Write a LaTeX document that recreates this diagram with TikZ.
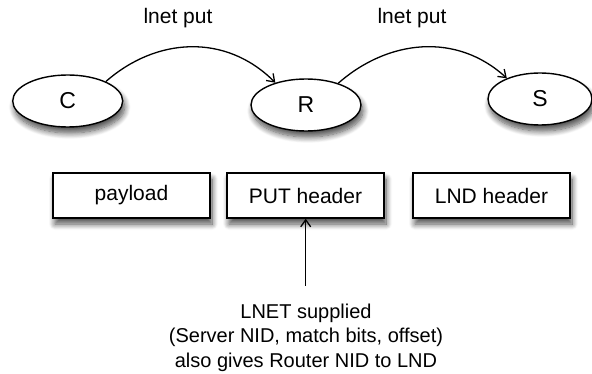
\documentclass[tikz,border=0pt]{standalone}
\usepackage{fontspec}
\setmainfont{Liberation Sans}
\usetikzlibrary{shapes.geometric,arrows.meta,shadows.blur}
\begin{document}
\begin{tikzpicture}[x=1pt,y=1pt,
  font=\fontsize{21}{24.5}\selectfont,
  shad/.style={blur shadow={shadow xshift=2pt,shadow yshift=-6pt,shadow blur radius=6pt,shadow blur steps=10,shadow opacity=70}},
  hostnode/.style={ellipse,draw,line width=1.4pt,fill=white,minimum width=110pt,minimum height=52pt,inner sep=0pt,shad,font=\fontsize{23}{26}\selectfont},
  hdrbox/.style={rectangle,draw,line width=1.4pt,fill=white,minimum width=157pt,minimum height=45pt,inner sep=0pt,shad},
  conn/.style={line width=1.3pt,-{Straight Barb[length=7pt,width=10pt,line width=1.3pt]}}
]
\useasboundingbox (0,0) rectangle (592,-374);
\node[hostnode] (C) at (67.7,-101) {C};
\node[hostnode] (R) at (306,-105) {R};
\node[hostnode,minimum width=104pt] (S) at (540,-99) {S};
\node (l1) at (178,-18) {lnet put};
\node (l2) at (412,-18) {lnet put};
\draw[conn] (C.27) .. controls +(50,44) and +(-50,50) .. (R.144);
\draw[conn] (R.34) .. controls +(50,44) and +(-50,46) .. (S.148);
\node[hdrbox] (pl) at (131.5,-195.5) {payload};
\node[hdrbox] (ph) at (305.5,-195.5) {PUT header};
\node[hdrbox] (lh) at (491.5,-195.5) {LND header};
\node[align=center,font=\fontsize{20}{24.5}\selectfont] (txt) at (306,-337.5) {LNET supplied\\(Server NID, match bits, offset)\\also gives Router NID to LND};
\coordinate (ab) at (305.7,-286);
\draw[conn] (ab) -- (ab |- ph.south);
\end{tikzpicture}
\end{document}
